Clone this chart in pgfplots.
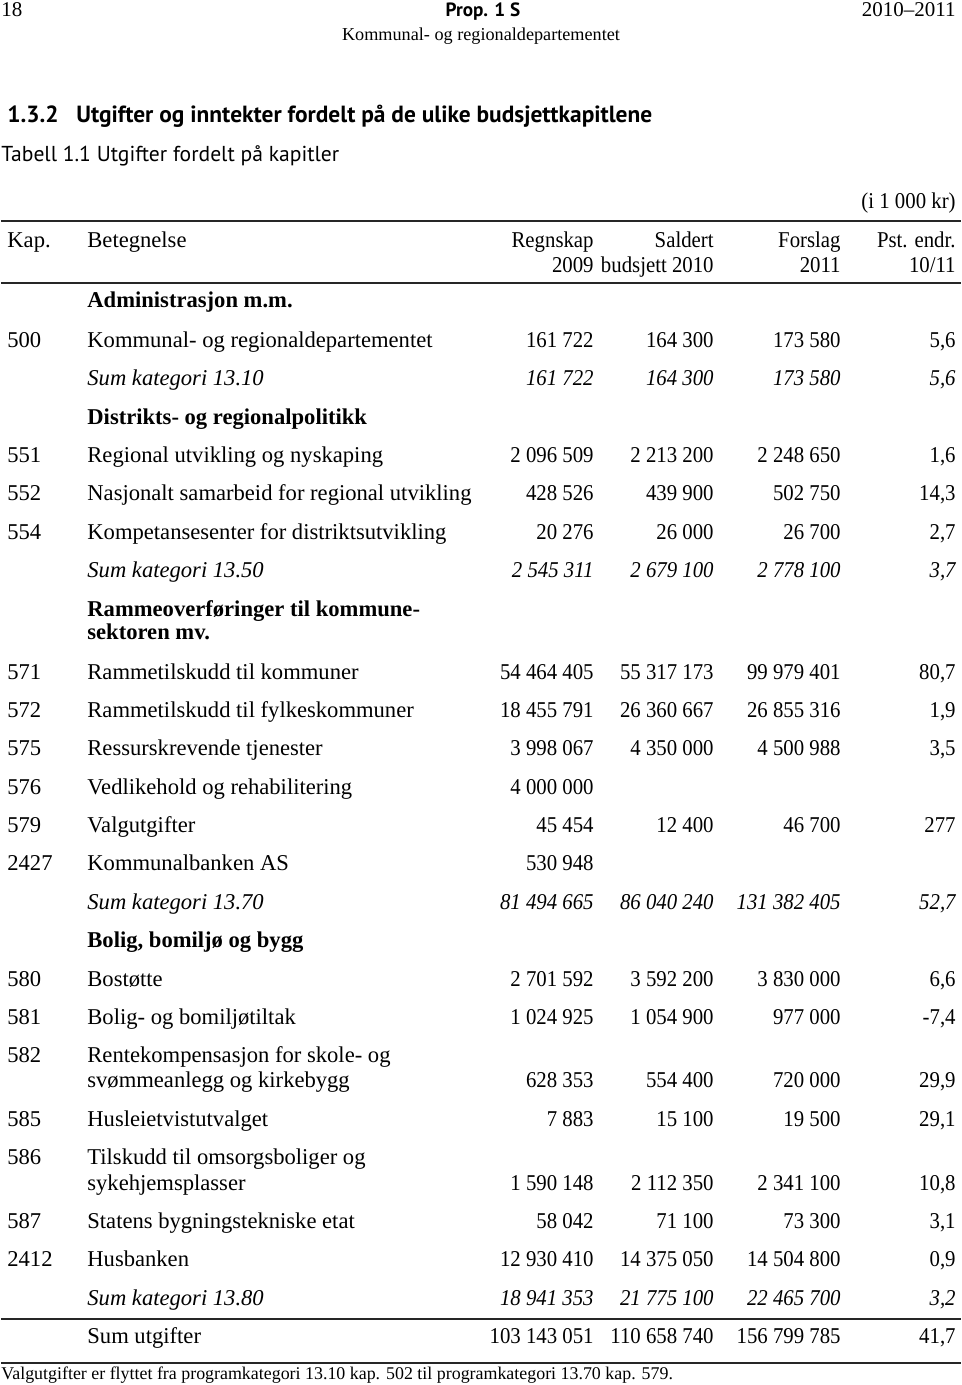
\documentclass[border=0pt]{standalone}
\usepackage{graphicx}
\usepackage{pgfplots}
\pgfplotsset{compat=1.18}
\usepackage{fontspec}
\setmainfont{Liberation Serif}
\newfontfamily\sansf{PT Sans}
\tikzset{t/.style={inner sep=0pt, yshift=-0.75pt, font=\fontsize{11.3pt}{13.6pt}\selectfont}}
\newcommand{\N}[1]{\scalebox{0.92}[1]{#1}}
\newcommand{\R}[7]{%
\node[t,anchor=mid west] at (axis cs:6,#1) {#2};
\node[t,anchor=mid west] at (axis cs:86,#1) {#3};
\node[t,anchor=mid east] at (axis cs:593,#1) {\N{#4}};
\node[t,anchor=mid east] at (axis cs:713,#1) {\N{#5}};
\node[t,anchor=mid east] at (axis cs:840,#1) {\N{#6}};
\node[t,anchor=mid east] at (axis cs:955,#1) {\N{#7}};}
\newcommand{\SR}[6]{%
\node[t,anchor=mid west] at (axis cs:86,#1) {\itshape #2};
\node[t,anchor=mid east] at (axis cs:593,#1) {\N{\itshape #3}};
\node[t,anchor=mid east] at (axis cs:713,#1) {\N{\itshape #4}};
\node[t,anchor=mid east] at (axis cs:840,#1) {\N{\itshape #5}};
\node[t,anchor=mid east] at (axis cs:955,#1) {\N{\itshape #6}};}
\newcommand{\HD}[2]{\node[t,anchor=mid west] at (axis cs:86,#1) {\bfseries #2};}
\begin{document}
\begin{tikzpicture}
\begin{axis}[scale only axis, width=480pt, height=692.5pt,
  xmin=0, xmax=960, ymin=0, ymax=1385, y dir=reverse,
  axis lines=none, clip=false]
\addplot[draw=none] coordinates {(0,0) (960,1385)};
% page header
\node[inner sep=0pt,anchor=mid west] at (axis cs:0,12) {\fontsize{10.5pt}{12pt}\selectfont 18};
\node[inner sep=0pt,anchor=mid] at (axis cs:482,12) {\fontsize{9.6pt}{12pt}\selectfont\sansf\bfseries Prop. 1 S};
\node[inner sep=0pt,anchor=mid east] at (axis cs:955,12) {\fontsize{10.5pt}{12pt}\selectfont 2010–2011};
\node[inner sep=0pt,anchor=mid] at (axis cs:480,36) {\fontsize{9.1pt}{11pt}\selectfont Kommunal- og regionaldepartementet};
\node[inner sep=0pt,anchor=mid west] at (axis cs:6,118) {\fontsize{11.7pt}{14pt}\selectfont\sansf\bfseries 1.3.2};
\node[inner sep=0pt,anchor=mid west] at (axis cs:75,118) {\fontsize{11.7pt}{14pt}\selectfont\sansf\bfseries Utgifter og inntekter fordelt på de ulike budsjettkapitlene};
\node[inner sep=0pt,anchor=mid west] at (axis cs:0,157) {\fontsize{10.8pt}{13pt}\selectfont\sansf Tabell 1.1 Utgifter fordelt på kapitler};
% table header
\node[t,anchor=mid east] at (axis cs:955,202) {\N{(i 1 000 kr)}};
\draw[line width=1pt, black!85] (axis cs:0,221) -- (axis cs:960,221);
\R{241}{Kap.}{Betegnelse}{Regnskap}{Saldert}{Forslag}{Pst. endr.}
\R{266}{}{}{2009}{budsjett 2010}{2011}{10/11}
\draw[line width=1pt, black!85] (axis cs:0,283) -- (axis cs:960,283);
% body
\HD{301}{Administrasjon m.m.}
\R{341}{500}{Kommunal- og regionaldepartementet}{161 722}{164 300}{173 580}{5,6}
\SR{379}{Sum kategori 13.10}{161 722}{164 300}{173 580}{5,6}
\HD{418}{Distrikts- og regionalpolitikk}
\R{456}{551}{Regional utvikling og nyskaping}{2 096 509}{2 213 200}{2 248 650}{1,6}
\R{494}{552}{Nasjonalt samarbeid for regional utvikling}{428 526}{439 900}{502 750}{14,3}
\R{533}{554}{Kompetansesenter for distriktsutvikling}{20 276}{26 000}{26 700}{2,7}
\SR{571}{Sum kategori 13.50}{2 545 311}{2 679 100}{2 778 100}{3,7}
\HD{610}{Rammeoverføringer til kommune-}
\HD{633}{sektoren mv.}
\R{673}{571}{Rammetilskudd til kommuner}{54 464 405}{55 317 173}{99 979 401}{80,7}
\R{711}{572}{Rammetilskudd til fylkeskommuner}{18 455 791}{26 360 667}{26 855 316}{1,9}
\R{749}{575}{Ressurskrevende tjenester}{3 998 067}{4 350 000}{4 500 988}{3,5}
\R{788}{576}{Vedlikehold og rehabilitering}{4 000 000}{}{}{}
\R{826}{579}{Valgutgifter}{45 454}{12 400}{46 700}{277}
\R{864}{2427}{Kommunalbanken AS}{530 948}{}{}{}
\SR{903}{Sum kategori 13.70}{81 494 665}{86 040 240}{131 382 405}{52,7}
\HD{941}{Bolig, bomiljø og bygg}
\R{980}{580}{Bostøtte}{2 701 592}{3 592 200}{3 830 000}{6,6}
\R{1018}{581}{Bolig- og bomiljøtiltak}{1 024 925}{1 054 900}{977 000}{-7,4}
\R{1056}{582}{Rentekompensasjon for skole- og}{}{}{}{}
\R{1081}{}{svømmeanlegg og kirkebygg}{628 353}{554 400}{720 000}{29,9}
\R{1120}{585}{Husleietvistutvalget}{7 883}{15 100}{19 500}{29,1}
\R{1158}{586}{Tilskudd til omsorgsboliger og}{}{}{}{}
\R{1184}{}{sykehjemsplasser}{1 590 148}{2 112 350}{2 341 100}{10,8}
\R{1222}{587}{Statens bygningstekniske etat}{58 042}{71 100}{73 300}{3,1}
\R{1260}{2412}{Husbanken}{12 930 410}{14 375 050}{14 504 800}{0,9}
\SR{1299}{Sum kategori 13.80}{18 941 353}{21 775 100}{22 465 700}{3,2}
\draw[line width=1pt, black!85] (axis cs:0,1319) -- (axis cs:960,1319);
\R{1337}{}{Sum utgifter}{103 143 051}{110 658 740}{156 799 785}{41,7}
\draw[line width=1pt, black!85] (axis cs:0,1363) -- (axis cs:960,1363);
\node[inner sep=0pt,anchor=mid west] at (axis cs:0,1375) {\fontsize{8.95pt}{11pt}\selectfont Valgutgifter er flyttet fra programkategori 13.10 kap. 502 til programkategori 13.70 kap. 579.};
\end{axis}
\end{tikzpicture}
\end{document}
